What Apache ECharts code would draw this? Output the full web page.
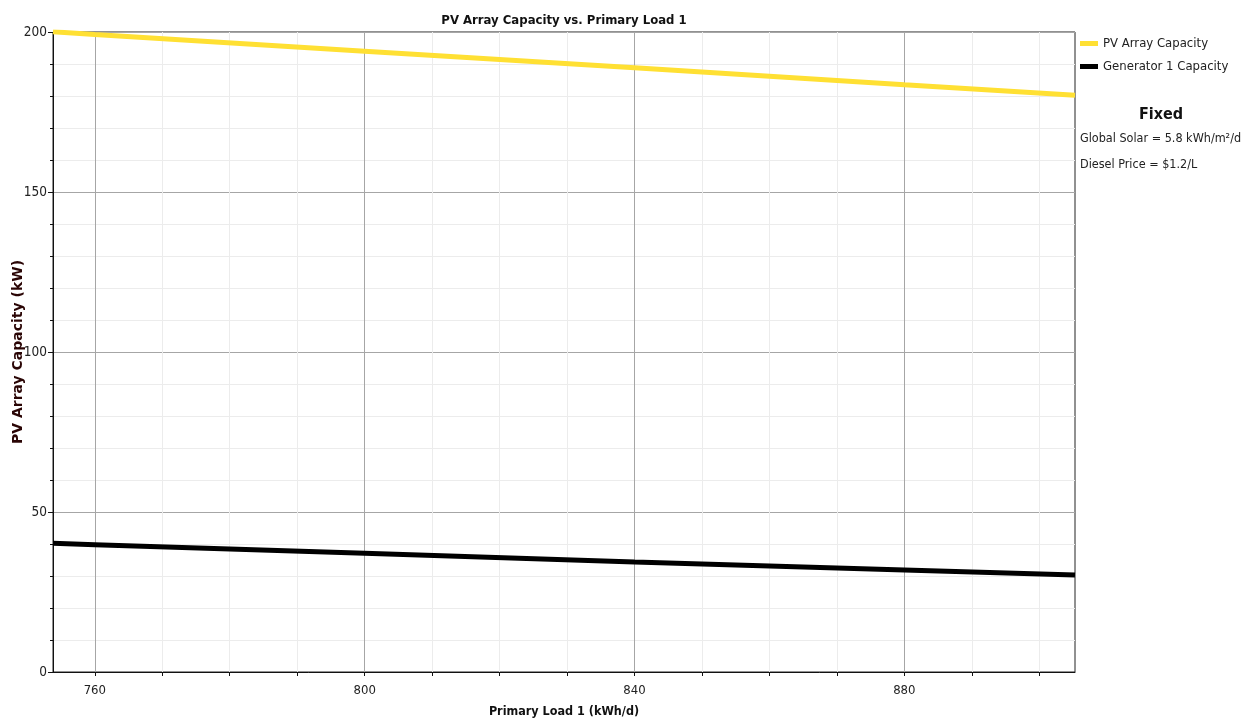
<!DOCTYPE html>
<html>
<head>
<meta charset="utf-8">
<script src="https://cdn.jsdelivr.net/npm/echarts@6/dist/echarts.min.js"></script>
<style>
  html, body { margin: 0; padding: 0; background: #fff; }
  #chart { width: 1249px; height: 723px; }
</style>
</head>
<body>
<div id="chart"></div>
<script>
// values
var primaryLoad = [753.8, 760, 800, 840, 880, 905.3];
var pvArrayCapacity = [200.1, 199.2, 194.0, 188.8, 183.5, 180.2];
var generatorCapacity = [40.2, 39.8, 37.1, 34.4, 31.9, 30.3];
var xLabelTicks = [760, 800, 840, 880];
var xGridTicks = [760, 770, 780, 790, 800, 810, 820, 830, 840, 850, 860, 870, 880, 890, 900];
var fixedNotes = ['Global Solar = 5.8 kWh/m²/d', 'Diesel Price = $1.2/L'];

var font = "'DejaVu Sans Condensed', 'Liberation Sans', sans-serif";

function pairs(xs, ys) {
  return xs.map(function (x, i) { return [x, ys[i]]; });
}

var chart = echarts.init(document.getElementById('chart'));

chart.setOption({
  backgroundColor: '#fff',
  animation: false,
  textStyle: { fontFamily: font },
  title: {
    text: 'PV Array Capacity vs. Primary Load 1',
    left: 559,
    textAlign: 'center',
    top: 9,
    textStyle: { fontFamily: font, fontSize: 13, fontWeight: 'bold', color: '#111' }
  },
  grid: {
    left: 53, right: 174, top: 32, bottom: 51,
    outerBoundsMode: 'none',
    containLabel: false,
    show: true, borderColor: '#222', borderWidth: 1
  },
  legend: {
    orient: 'vertical',
    left: 1075,
    top: 32,
    itemWidth: 18,
    itemHeight: 5,
    itemGap: 10,
    icon: 'rect',
    textStyle: { fontFamily: font, fontSize: 13, color: '#222' },
    data: ['PV Array Capacity', 'Generator 1 Capacity']
  },
  graphic: [
    { type: 'text', left: 1139, top: 107, style: { text: 'Fixed', font: 'bold 16px ' + font, fill: '#111' } },
    { type: 'text', left: 1080, top: 132, style: { text: fixedNotes[0], font: '12.5px ' + font, fill: '#222' } },
    { type: 'text', left: 1080, top: 158, style: { text: fixedNotes[1], font: '12.5px ' + font, fill: '#222' } }
  ],
  xAxis: {
    type: 'value',
    min: 753.8,
    max: 905.3,
    name: 'Primary Load 1 (kWh/d)',
    nameLocation: 'middle',
    nameGap: 33,
    nameTextStyle: { fontFamily: font, fontSize: 12.5, color: '#111', fontWeight: 'bold' },
    axisLine: { show: true, onZero: false, lineStyle: { color: '#111', width: 1 } },
    axisTick: { show: true, length: 4, customValues: xGridTicks, lineStyle: { color: '#111' } },
    axisLabel: { customValues: xLabelTicks, margin: 12, fontSize: 13, color: '#222', fontFamily: font },
    // major line every 40, light minor lines every 10
    splitLine: { show: true, lineStyle: { color: ['#a6a6a6', '#ececec', '#ececec', '#ececec'], width: 1 } }
  },
  yAxis: {
    type: 'value',
    min: 0,
    max: 200,
    interval: 50,
    name: 'PV Array Capacity (kW)',
    nameLocation: 'middle',
    nameGap: 28,
    nameMoveOverlap: false,
    nameTextStyle: { fontFamily: "'DejaVu Sans', sans-serif", fontSize: 14, color: '#2a0505', fontWeight: 'bold' },
    axisLine: { show: true, lineStyle: { color: '#111', width: 1 } },
    axisTick: { show: true, length: 5, lineStyle: { color: '#111' } },
    minorTick: { show: true, splitNumber: 5, length: 3, lineStyle: { color: '#111' } },
    axisLabel: { margin: 6, fontSize: 13.5, color: '#222', fontFamily: font },
    splitLine: { show: true, lineStyle: { color: '#a6a6a6', width: 1 } },
    minorSplitLine: { show: true, lineStyle: { color: '#ececec', width: 1 } }
  },
  series: [{
    name: 'PV Array Capacity',
    type: 'line',
    data: pairs(primaryLoad, pvArrayCapacity),
    showSymbol: false,
    color: '#ffe033',
    lineStyle: { color: '#ffe033', width: 5 },
    z: 3
  }, {
    name: 'Generator 1 Capacity',
    type: 'line',
    data: pairs(primaryLoad, generatorCapacity),
    showSymbol: false,
    color: '#000',
    lineStyle: { color: '#000', width: 5 },
    z: 3
  }]
});
</script>
</body>
</html>
